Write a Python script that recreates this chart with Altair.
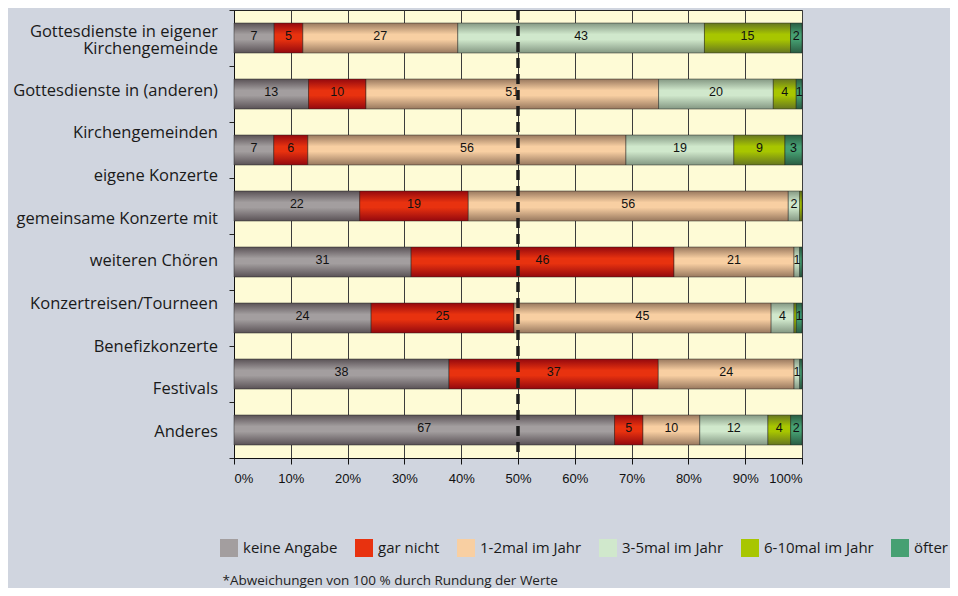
import altair as alt
import pandas as pd

cats = [
    "Gottesdienste in eigener Kirchengemeinde",
    "Gottesdienste in anderen Kirchengemeinden",
    "eigene Konzerte",
    "gemeinsame Konzerte mit weiteren Chören",
    "Konzertreisen/Tourneen",
    "Benefizkonzerte",
    "Festivals",
    "Anderes",
]
axis_labels = [
    "Gottesdienste in eigener\nKirchengemeinde",
    "Gottesdienste in (anderen)",
    "Kirchengemeinden",
    "eigene Konzerte",
    "gemeinsame Konzerte mit",
    "weiteren Chören",
    "Konzertreisen/Tourneen",
    "Benefizkonzerte",
    "Festivals",
    "Anderes",
]
series = ["keine Angabe", "gar nicht", "1-2mal im Jahr", "3-5mal im Jahr", "6-10mal im Jahr", "öfter"]

keine_angabe = [7, 13, 7, 22, 31, 24, 38, 67]
gar_nicht = [5, 10, 6, 19, 46, 25, 37, 5]
mal_1_2 = [27, 51, 56, 56, 21, 45, 24, 10]
mal_3_5 = [43, 20, 19, 2, 1, 4, 1, 12]
mal_6_10 = [15, 4, 9, 0.4, 0, 0.4, 0, 4]
oefter = [2, 1, 3, 0, 0.4, 1, 0.4, 2]

mid_colors = ["#a39e9f", "#e8320f", "#f8cfa2", "#d0e8cc", "#a8c600", "#46a072"]
edge_colors = ["#5a5256", "#94080e", "#98785e", "#849883", "#667620", "#2a5c43"]
footnote = "*Abweichungen von 100 % durch Rundung der Werte"

rows = []
for s_i, (s, vals) in enumerate(zip(series, [keine_angabe, gar_nicht, mal_1_2, mal_3_5, mal_6_10, oefter])):
    for c, v in zip(cats, vals):
        rows.append({"cat": c, "series": s, "order": s_i, "value": v})
df = pd.DataFrame(rows)
lab_df = pd.DataFrame({"lab": axis_labels, "idx": list(range(len(axis_labels)))})
mid_df = pd.DataFrame({"mid": [0.5]})

base = alt.Chart(df).transform_filter("datum.value > 0").transform_stack(
    stack="value", groupby=["cat"], as_=["v0", "v1"], offset="normalize",
    sort=[alt.SortField("order", order="ascending")]
)

x_enc = alt.X(
    "v0:Q",
    scale=alt.Scale(domain=[0, 1], nice=False),
    axis=alt.Axis(
        format="%", values=[i / 10 for i in range(11)], grid=True, gridColor="#3c3c3c",
        gridWidth=1, tickColor="#111", tickSize=6, domainColor="#111",
        labelFont="Liberation Sans", labelFontSize=13, labelColor="#111", labelPadding=8,
        title=footnote, titleFont="Open Sans", titleFontSize=13.5, titleFontWeight="normal",
        titleColor="#222", titleX=-12, titleY=122, titleAlign="left", titleAnchor="start",
        titleBaseline="middle",
    ),
)
y_enc = alt.Y(
    "cat:N", sort=cats,
    scale=alt.Scale(paddingInner=0, paddingOuter=0),
    axis=alt.Axis(labels=False, ticks=True, bandPosition=1, tickExtra=True, tickSize=5,
                  tickColor="#222", domainColor="#111", grid=False, title=None),
)

flat = base.mark_bar(size=30).encode(
    x=x_enc, x2="v1:Q", y=y_enc,
    color=alt.Color(
        "series:N",
        scale=alt.Scale(domain=series, range=mid_colors),
        legend=alt.Legend(
            orient="none", legendX=-14, legendY=529, direction="horizontal", columns=6,
            title=None, symbolType="square", symbolSize=324, symbolStrokeWidth=0,
            symbolOpacity=1, labelFont="Open Sans", labelFontSize=15, labelColor="#1a1a1a",
            labelOffset=5, columnPadding=17,
        ),
    ),
)

overlays = []
for s, mid, edge in zip(series, mid_colors, edge_colors):
    grad = alt.LinearGradient(
        gradient="linear", x1=0, x2=0, y1=0, y2=1,
        stops=[
            alt.GradientStop(color=edge, offset=0),
            alt.GradientStop(color=mid, offset=0.38),
            alt.GradientStop(color=mid, offset=0.55),
            alt.GradientStop(color=edge, offset=1),
        ],
    )
    overlays.append(
        base.transform_filter(alt.datum.series == s).mark_bar(
            size=30, fill=grad, stroke="#1e1e1e", strokeWidth=0.6, strokeOpacity=0.8
        ).encode(x="v0:Q", x2="v1:Q", y=alt.Y("cat:N", sort=cats))
    )

values = base.transform_filter("datum.value >= 1").transform_calculate(
    m="(datum.v0 + datum.v1) / 2"
).mark_text(font="Liberation Sans", fontSize=12.5, color="#111", dy=-2).encode(
    x="m:Q", y=alt.Y("cat:N", sort=cats), text=alt.Text("value:Q", format=".0f")
)

rule = alt.Chart(mid_df).mark_rule(strokeDash=[10, 6], strokeWidth=3.5, color="#1c1c1c").encode(
    x="mid:Q"
)

bars_group = alt.layer(flat, *overlays, values, rule)

lab_y = alt.Y("lab:N", sort=axis_labels,
              scale=alt.Scale(type="point", domain=axis_labels, range=[38, 422], padding=0),
              axis=None)
labels_rest = alt.Chart(lab_df).transform_filter("datum.idx > 0").mark_text(
    align="right", baseline="middle", font="Open Sans", fontSize=16.5, color="#1a1a1a"
).encode(x=alt.value(-16), y=lab_y, text="lab:N")
labels_first = alt.Chart(lab_df).transform_filter("datum.idx == 0").mark_text(
    align="right", baseline="middle", font="Open Sans", fontSize=16.5, color="#1a1a1a",
    lineBreak="\n", lineHeight=16.5, dy=-16,
).encode(x=alt.value(-16), y=lab_y, text="lab:N")
labels_group = alt.layer(labels_rest, labels_first)

chart = alt.layer(bars_group, labels_group).resolve_scale(y="independent").properties(
    width=568, height=448,
    padding={"left": 226, "top": 2, "right": 148, "bottom": 130},
    autosize=alt.AutoSizeParams(type="none"),
    background="#d0d5df",
).configure_view(fill="#fefbd6", stroke="#222", strokeWidth=1)

chart.save("out.html", embed_options={"renderer": "svg", "actions": False})
